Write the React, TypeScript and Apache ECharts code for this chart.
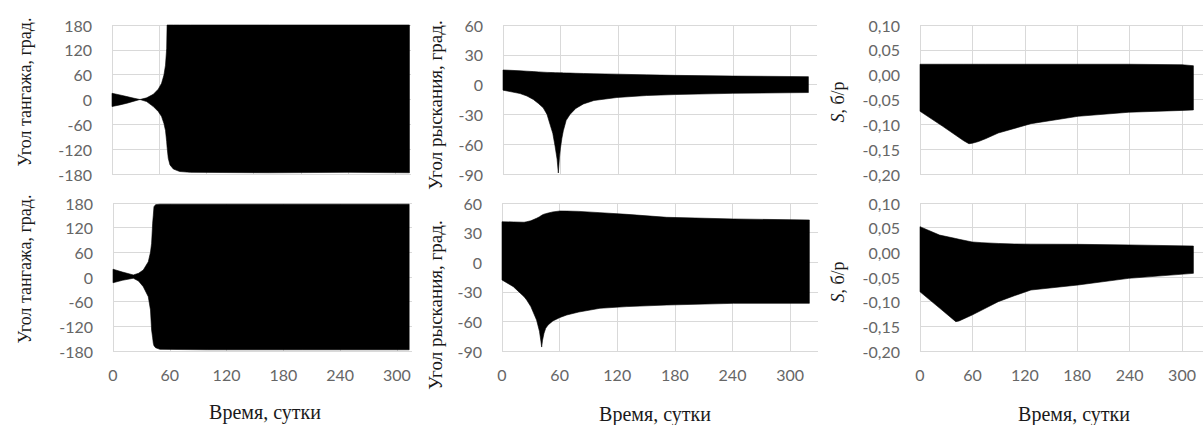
import React, { useEffect, useRef } from "react";
import * as echarts from "echarts";

const W = 1203;
const H = 425;

// ---- Data (envelopes of the oscillation) ----
// Top-left: pitch angle, deg
const tlTime = [0, 10, 19, 28, 35.6, 44, 52.5, 58.8, 63, 66, 68, 69.5, 70, 71.5, 73.7, 78, 86, 100, 200, 300, 378];
const tlUpper = [15, 11, 7, 3, 0, 4, 12.5, 25, 39, 59, 83, 124, 180, 180, 180, 180, 180, 180, 180, 180, 180];
const tlLower = [-17, -13, -9, -4, 0, -5, -17, -29, -41, -58, -75, -102, -115, -142, -158, -168, -174, -176, -177, -176, -177];

// Bottom-left: pitch angle, deg
const blTime = [0, 10, 21.5, 27, 32, 37.3, 39.6, 40.8, 41.9, 42.6, 43.3, 45, 49.6, 100, 200, 313];
const blUpper = [19, 12, 5, 9, 17, 37, 60, 82, 131, 150, 171, 176, 177, 177, 177, 177];
const blLower = [-14, -8, -3, -10, -23.5, -48, -80, -129, -148, -161, -167, -172, -176, -177, -177, -177];

// Top-middle: yaw angle, deg
const tmTime = [0, 7.3, 17.8, 25, 31.7, 37, 42, 46, 49.1, 52, 54.4, 56.5, 57.8, 59, 60, 61.5, 63, 66, 70, 76, 84, 95, 119, 150, 180, 240, 319];
const tmUpper = [14.7, 14.4, 13.9, 13.5, 13.1, 12.8, 12.5, 12.3, 12.2, 12.1, 12, 12, 12, 11.9, 11.9, 11.9, 11.8, 11.7, 11.6, 11.4, 11.2, 10.9, 10.5, 9.8, 9.3, 8.6, 8];
const tmLower = [-5.6, -7, -9, -11.5, -15, -19, -23.4, -30, -40, -49, -62, -75, -89, -73, -64, -54, -46.5, -36, -30, -24, -19.5, -16, -13, -11, -10, -8.8, -8];

// Bottom-middle: yaw angle, deg
const bmTime = [0, 11.8, 23, 25.7, 30, 36, 39, 40.5, 41.3, 42.2, 43.75, 45.5, 48, 53, 60.4, 67.4, 80, 102, 130, 171.5, 241, 320];
const bmUpper = [41, 40.8, 40.5, 41, 42, 44.5, 46, 47, 47.5, 48, 48.7, 49.2, 49.8, 51, 51.9, 51.8, 51.5, 50.2, 48.5, 45.5, 43.8, 42.8];
const bmLower = [-18, -24.8, -35, -38.3, -45, -58.6, -70, -80, -86, -79, -72, -67, -63.6, -59.5, -56, -53.5, -50.5, -46.7, -45, -43.4, -41.7, -41.7];

// Top-right: S, dimensionless
const trTime = [0, 26, 50, 56, 60, 67, 75, 89.6, 127, 181, 239, 300, 313];
const trUpper = [0.021, 0.021, 0.021, 0.021, 0.021, 0.021, 0.021, 0.021, 0.021, 0.021, 0.021, 0.02, 0.018];
const trLower = [-0.0737, -0.104, -0.133, -0.139, -0.138, -0.1346, -0.129, -0.1175, -0.0987, -0.0838, -0.0757, -0.072, -0.071];

// Bottom-right: S, dimensionless
const brTime = [0, 22.4, 41, 44.8, 59.7, 70.9, 89.6, 108, 127, 181, 239, 313];
const brUpper = [0.052, 0.035, 0.028, 0.0264, 0.021, 0.0196, 0.018, 0.0169, 0.0166, 0.0162, 0.015, 0.0128];
const brLower = [-0.08, -0.113, -0.1405, -0.139, -0.127, -0.117, -0.1, -0.088, -0.0764, -0.0662, -0.0527, -0.0426];

// Tick values of the time axes
const timeTicks = [0, 60, 120, 180, 240, 300];
const timeTicksLong = [0, 60, 120, 180, 240, 300, 360];

const xTitle = "Время, сутки";
const pitchTitle = "Угол тангажа, град.";
const yawTitle = "Угол рыскания, град.";
const sTitle = "{i|S}, б/р";

const GRID_COLOR = "#d9d9d9";
const LABEL_COLOR = "#666666";
const LABEL_FONT = "Lato";
const TITLE_FONT = "Liberation Serif";

type Panel = {
  time: number[];
  upper: number[];
  lower: number[];
  grid: { left: number; top: number; width: number; height: number };
  xMax: number;
  ticks: number[];
  yMin: number;
  yMax: number;
  yInterval: number;
  showX: boolean;
  fmt: (v: number) => string;
};

const intFmt = (v: number) => String(Math.round(v));
const commaFmt = (v: number) => (Math.abs(v) < 1e-9 ? "0,00" : v.toFixed(2).replace(".", ","));

const panels: Panel[] = [
  { time: tlTime, upper: tlUpper, lower: tlLower, grid: { left: 112, top: 25, width: 299, height: 149 }, xMax: 380, ticks: timeTicksLong, yMin: -180, yMax: 180, yInterval: 60, showX: false, fmt: intFmt },
  { time: blTime, upper: blUpper, lower: blLower, grid: { left: 113, top: 203, width: 299, height: 148 }, xMax: 316, ticks: timeTicks, yMin: -180, yMax: 180, yInterval: 60, showX: true, fmt: intFmt },
  { time: tmTime, upper: tmUpper, lower: tmLower, grid: { left: 503, top: 25, width: 314, height: 149 }, xMax: 328, ticks: timeTicks, yMin: -90, yMax: 60, yInterval: 30, showX: false, fmt: intFmt },
  { time: bmTime, upper: bmUpper, lower: bmLower, grid: { left: 502, top: 203, width: 316, height: 148 }, xMax: 329, ticks: timeTicks, yMin: -90, yMax: 60, yInterval: 30, showX: true, fmt: intFmt },
  { time: trTime, upper: trUpper, lower: trLower, grid: { left: 920, top: 25, width: 290, height: 149 }, xMax: 324, ticks: timeTicks, yMin: -0.2, yMax: 0.1, yInterval: 0.05, showX: false, fmt: commaFmt },
  { time: brTime, upper: brUpper, lower: brLower, grid: { left: 920, top: 203, width: 290, height: 148 }, xMax: 324, ticks: timeTicks, yMin: -0.2, yMax: 0.1, yInterval: 0.05, showX: true, fmt: commaFmt },
];

function buildOption() {
  const grid: any[] = [];
  const xAxis: any[] = [];
  const yAxis: any[] = [];
  const series: any[] = [];
  panels.forEach((p, i) => {
    grid.push({ ...p.grid, containLabel: false });
    xAxis.push({
      type: "value",
      gridIndex: i,
      min: 0,
      max: p.xMax,
      interval: 60,
      axisLine: { show: false },
      axisTick: { show: false, customValues: p.ticks },
      splitLine: { show: true, lineStyle: { color: GRID_COLOR, width: 1 } },
      axisLabel: {
        show: p.showX,
        customValues: p.ticks,
        margin: 15,
        color: LABEL_COLOR,
        fontFamily: LABEL_FONT,
        fontSize: 16,
      },
    });
    yAxis.push({
      type: "value",
      gridIndex: i,
      min: p.yMin,
      max: p.yMax,
      interval: p.yInterval,
      axisLine: { show: false },
      axisTick: { show: false },
      splitLine: { show: true, lineStyle: { color: GRID_COLOR, width: 1 } },
      axisLabel: {
        margin: 20,
        color: LABEL_COLOR,
        fontFamily: LABEL_FONT,
        fontSize: 16,
        formatter: (v: number) => p.fmt(v),
      },
    });
    series.push({
      type: "custom",
      xAxisIndex: i,
      yAxisIndex: i,
      silent: true,
      encode: { x: 0, y: [1, 2] },
      data: p.time.map((t, k) => [t, p.upper[k], p.lower[k]]),
      renderItem: (params: any, api: any) => {
        if (params.dataIndex !== 0) return null;
        const pts: number[][] = [];
        for (let k = 0; k < p.time.length; k++) pts.push(api.coord([p.time[k], p.upper[k]]));
        for (let k = p.time.length - 1; k >= 0; k--) pts.push(api.coord([p.time[k], p.lower[k]]));
        return {
          type: "polygon",
          shape: { points: pts },
          style: { fill: "#000", stroke: "#000", lineWidth: 0.6 },
        };
      },
    });
  });

  const vText = (text: string, x: number, y: number, size: number, rich?: any) => ({
    type: "text",
    x,
    y,
    rotation: Math.PI / 2,
    silent: true,
    style: {
      text,
      fill: "#1a1a1a",
      fontFamily: TITLE_FONT,
      fontSize: size,
      align: "center",
      verticalAlign: "middle",
      rich,
    },
  });
  const hText = (text: string, x: number, y: number) => ({
    type: "text",
    x,
    y,
    silent: true,
    style: {
      text,
      fill: "#1a1a1a",
      fontFamily: TITLE_FONT,
      fontSize: 20,
      align: "center",
      verticalAlign: "middle",
    },
  });
  const sRich = {
    i: { fontStyle: "italic", fontFamily: TITLE_FONT, fontSize: 18, fill: "#1a1a1a" },
  };

  const graphic = [
    vText(pitchTitle, 25, 92, 18),
    vText(pitchTitle, 25, 269, 18),
    vText(yawTitle, 435, 105, 19),
    vText(yawTitle, 435, 305, 19),
    vText(sTitle, 838, 102, 18, sRich),
    vText(sTitle, 838, 282, 18, sRich),
    hText(xTitle, 265, 412),
    hText(xTitle, 655, 414),
    hText(xTitle, 1074, 414),
  ];

  return {
    animation: false,
    backgroundColor: "#ffffff",
    grid,
    xAxis,
    yAxis,
    series,
    graphic,
  };
}

export default function App() {
  const ref = useRef<HTMLDivElement>(null);
  useEffect(() => {
    if (!ref.current) return;
    const chart = echarts.init(ref.current, undefined, { renderer: "svg", width: W, height: H });
    chart.setOption(buildOption() as any);
    return () => chart.dispose();
  }, []);
  return (
    <div
      ref={ref}
      style={{ position: "absolute", left: 0, top: 0, width: W, height: H, background: "#fff" }}
    />
  );
}
